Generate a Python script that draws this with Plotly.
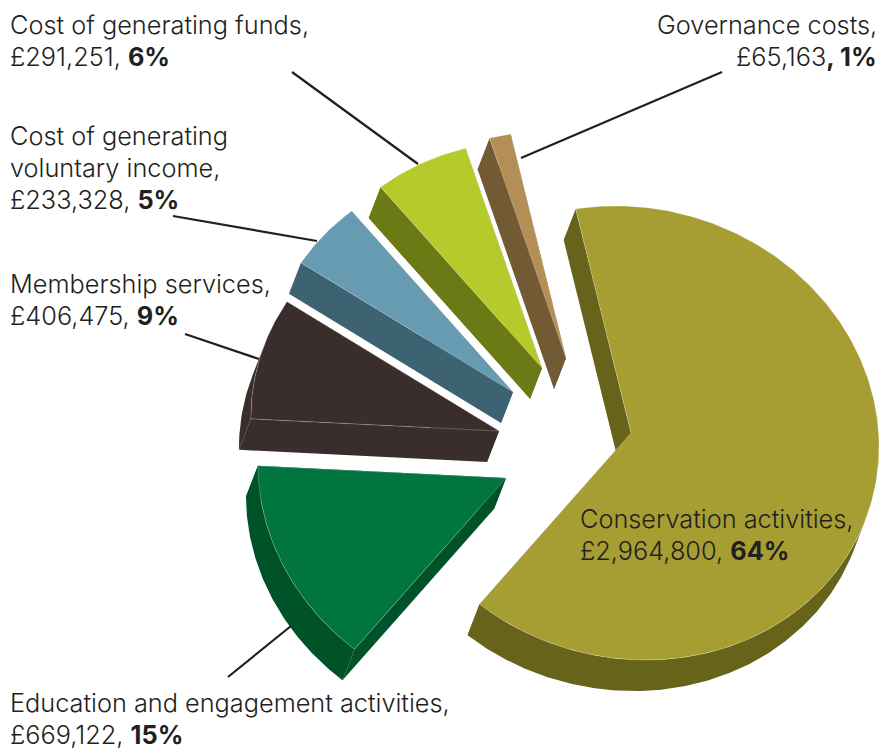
import math
import plotly.graph_objects as go

# Income spending breakdown
categories = [
    "Conservation activities",
    "Education and engagement activities",
    "Membership services",
    "Cost of generating voluntary income",
    "Cost of generating funds",
    "Governance costs",
]
amounts = [2964800, 669122, 406475, 233328, 291251, 65163]
percent_labels = [64, 15, 9, 5, 6, 1]

top_colors = ["#a69e33", "#00753f", "#3a2e2c", "#669bb1", "#b5cb2c", "#b48f55"]
side_colors = ["#67631a", "#005229", "#3a2e2c", "#3d6272", "#6c7a15", "#725a35"]

# Drawing setup: each slice is pulled out to its own hub; the rim is a tilted ellipse
hubs = [(631, 433), (506, 478), (499, 431), (513, 392), (542, 368), (566, 358)]
start_angle = -11.5
radius = 248
squash = 0.915
shear_x = 6
shear_y = 8
depth = (-12, 31)


def project(hub, angle):
    t = math.radians(angle)
    return (hub[0] + radius * math.sin(t) - shear_x * math.cos(t),
            hub[1] - radius * squash * math.cos(t) + shear_y * math.sin(t))


def offset(p):
    return (p[0] + depth[0], p[1] + depth[1])


def polygon(points, color, name, line=None):
    xs = [p[0] for p in points] + [points[0][0]]
    ys = [p[1] for p in points] + [points[0][1]]
    return go.Scatter(x=xs, y=ys, mode="lines", fill="toself", fillcolor=color,
                      line=line or dict(width=0, color=color), name=name,
                      hoverinfo="name", showlegend=False)


fig = go.Figure()
total = sum(amounts)
angle = start_angle
edge = dict(width=0.6, color="rgba(255,255,255,0.4)")

for i, name in enumerate(categories):
    sweep = amounts[i] / total * 360
    a0 = angle
    angle += sweep
    hub = hubs[i]
    steps = max(6, int(sweep * 1.5))
    arc = [project(hub, a0 + sweep * k / steps) for k in range(steps + 1)]

    # Radial walls; the parts facing away end up beneath the top face
    for rim in (arc[0], arc[-1]):
        fig.add_trace(polygon([hub, rim, offset(rim), offset(hub)], side_colors[i], name))

    # Outer wall, only along the stretch of rim that faces the viewer
    run = []
    runs = []
    for k in range(steps):
        p, q = arc[k], arc[k + 1]
        normal = (q[1] - p[1], -(q[0] - p[0]))
        if normal[0] * depth[0] + normal[1] * depth[1] > 0:
            if not run:
                run.append(p)
            run.append(q)
        elif run:
            runs.append(run)
            run = []
    if run:
        runs.append(run)
    for r in runs:
        fig.add_trace(polygon(r + [offset(p) for p in reversed(r)], side_colors[i], name))

    # Top face
    fig.add_trace(polygon([hub] + arc, top_colors[i], name, edge))

# Leader lines from the labels to their slices
leaders = [
    ((292, 72), (418, 164)),
    ((173, 216), (317, 241)),
    ((185, 334), (259, 359)),
    ((228, 677), (291, 626)),
    ((722, 72), (521, 158)),
]
for a, b in leaders:
    fig.add_trace(go.Scatter(x=[a[0], b[0]], y=[a[1], b[1]], mode="lines",
                             line=dict(color="#231f20", width=2.2),
                             hoverinfo="skip", showlegend=False))

FONT = "Inter"
SIZE = 25.3
INK = "#231f20"
LINE_GAP = 32


def money(v):
    return f"£{v:,}"


# name line(s), slice index, x, middle y of the first line, side to anchor on
label_specs = [
    (["Cost of generating funds,"], 4, 8.5, 24.5, "left"),
    (["Cost of generating", "voluntary income,"], 3, 8.5, 135.5, "left"),
    (["Membership services,"], 2, 8.5, 283.5, "left"),
    (["Education and engagement activities,"], 1, 8.5, 702.5, "left"),
    (["Governance costs,"], 5, 878, 24.5, "right"),
    (["Conservation activities,"], 0, 579, 518.5, "left"),
]
annotations = []
for lines, idx, x, y, side in label_specs:
    if idx == 5:
        last = money(amounts[idx]) + f"<b>, {percent_labels[idx]}%</b>"
    else:
        last = money(amounts[idx]) + ", " + f"<b>{percent_labels[idx]}%</b>"
    for n, text in enumerate(lines + [last]):
        annotations.append(dict(x=x, y=y + n * LINE_GAP, xref="x", yref="y", text=text,
                                showarrow=False, xanchor=side, yanchor="middle", align=side,
                                borderpad=0,
                                font=dict(family=FONT, size=SIZE, color=INK, weight=300)))

fig.update_layout(
    width=881, height=751, margin=dict(l=0, r=0, t=0, b=0),
    paper_bgcolor="white", plot_bgcolor="white", showlegend=False,
    xaxis=dict(range=[0, 881], visible=False, fixedrange=True),
    yaxis=dict(range=[751, 0], visible=False, fixedrange=True),
    annotations=annotations,
)
fig.write_html("out.html", config=dict(displayModeBar=False))
